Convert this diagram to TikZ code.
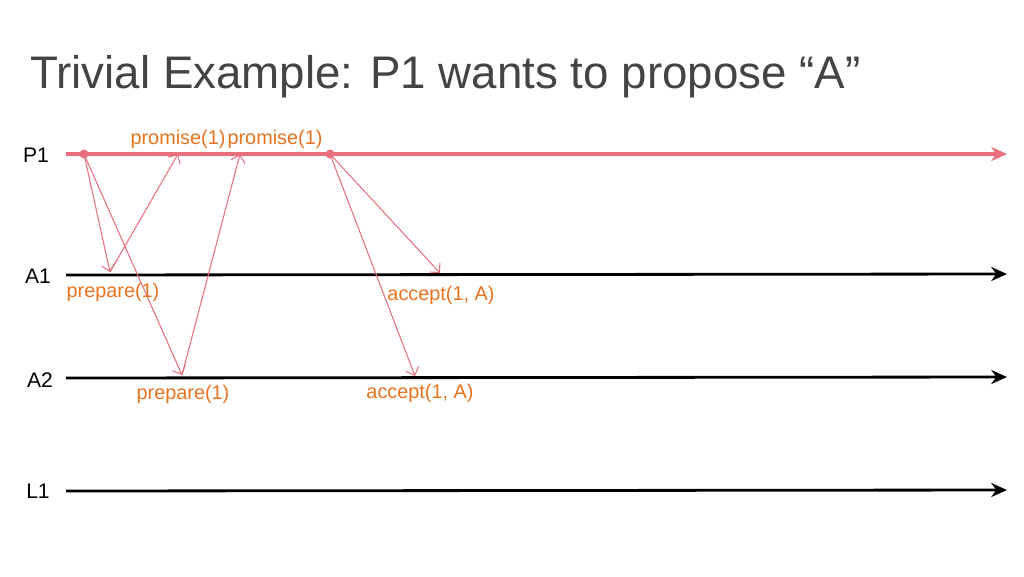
\documentclass[tikz,border=0pt]{standalone}
\usepackage{fontspec}
\setmainfont{Liberation Sans}
\usetikzlibrary{arrows.meta}
\definecolor{pline}{HTML}{E8707C}
\definecolor{msg}{HTML}{E8707C}
\definecolor{lbl}{HTML}{E8731E}
\definecolor{ttl}{HTML}{444444}
\tikzset{
  timeline/.style={line width=1.6pt, -{Stealth[length=9pt,width=8pt]}},
  message/.style={msg, line width=0.6pt, -{Straight Barb[length=4pt]}},
  msglabel/.style={lbl, font=\fontsize{11.3}{12}\selectfont},
  procname/.style={font=\fontsize{12}{13}\selectfont},
}
\begin{document}
\begin{tikzpicture}[x=0.02cm,y=-0.02cm]
    \useasboundingbox (0,0) rectangle (1024,576);

    % Titel
    \node[anchor=base west, ttl, font=\fontsize{26}{30}\selectfont, inner sep=0pt] (title) at (30,88) {Trivial Example: P1 wants to propose “A”};

    % Prozesse
    \node[procname] (p1) at (36,155) {P1};
    \node[procname] (a1) at (38,276) {A1};
    \node[procname] (a2) at (40,380) {A2};
    \node[procname] (l1) at (38,491) {L1};

    \draw[timeline, pline, line width=2.2pt] (66,154) -- (1007,154);
    \draw[timeline] (66,275) -- (1007,274);
    \draw[timeline] (66,378) -- (1007,377);
    \draw[timeline] (66,491) -- (1007,490);

    % Ereignisse
    \coordinate (s1) at (84,154);
    \coordinate (s2) at (330,154);
    \coordinate (r1) at (110,272);
    \coordinate (r2) at (182,375);
    \coordinate (q1) at (178,154);
    \coordinate (q2) at (240,154);
    \coordinate (c1) at (440,273);
    \coordinate (c2) at (415,376);
    \fill[pline] (s1) circle (4.5);
    \fill[pline] (s2) circle (4.5);

    % Nachrichten
    \draw[message] (s1) -- (r1);
    \draw[message] (s1) -- (r2);
    \draw[message] (r1) -- (q1);
    \draw[message] (r2) -- (q2);
    \draw[message] (s2) -- (c1);
    \draw[message] (s2) -- (c2);

    \node[msglabel] (lq1) at (178,139) {promise(1)};
    \node[msglabel] (lq2) at (275,139) {promise(1)};
    \node[msglabel] (lr1) at (113,292) {prepare(1)};
    \node[msglabel] (lr2) at (183,394) {prepare(1)};
    \node[msglabel] (lc1) at (441,295) {accept(1, A)};
    \node[msglabel] (lc2) at (420,393) {accept(1, A)};
\end{tikzpicture}
\end{document}
